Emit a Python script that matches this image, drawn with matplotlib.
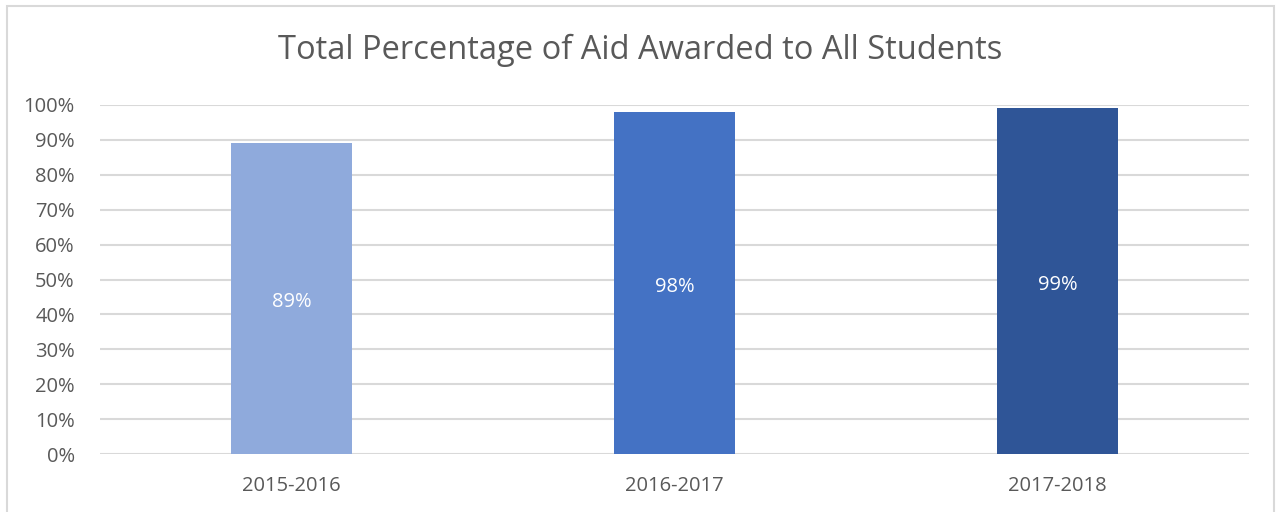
import matplotlib
matplotlib.use('Agg')
from matplotlib import pyplot as plt
from matplotlib.ticker import PercentFormatter
from matplotlib.patches import Rectangle

years = ['2015-2016', '2016-2017', '2017-2018']
aid_pct = [89, 98, 99]
bar_colors = ['#8FAADC', '#4472C4', '#2F5597']
yticks = list(range(0, 101, 10))

plt.rcParams['font.family'] = ['Open Sans', 'DejaVu Sans']

fig = plt.figure(figsize=(12.8, 5.12), dpi=100)
ax = fig.add_axes([0.078, 0.113, 0.898, 0.682])

x = range(len(years))
bars = ax.bar(x, aid_pct, width=0.316, color=bar_colors, zorder=3)
for b, v in zip(bars, aid_pct):
    ax.text(b.get_x() + b.get_width() / 2, v / 2 - 1, '%d%%' % v,
            ha='center', va='center', color='white', fontsize=14.5)

ax.set_xlim(-0.5, len(years) - 0.5)
ax.set_ylim(0, 100)
ax.set_yticks(yticks)
ax.yaxis.set_major_formatter(PercentFormatter(decimals=0))
ax.set_xticks(list(x))
ax.set_xticklabels(years)
ax.tick_params(axis='both', length=0, labelsize=14.5, labelcolor='#595959')
ax.tick_params(axis='x', pad=16)
ax.tick_params(axis='y', pad=18)
ax.grid(axis='y', color='#D9D9D9', linewidth=1.5, zorder=0)
for sp in ax.spines.values():
    sp.set_visible(False)

fig.text(0.5, 1 - 50 / 512, 'Total Percentage of Aid Awarded to All Students',
         ha='center', va='center', fontsize=23.5, color='#595959')

# outer chart border
fig.patches.append(Rectangle((7 / 1280, -0.02), 1267 / 1280, 1.02 - 6 / 512,
                             transform=fig.transFigure,
                             fill=False, edgecolor='#D9D9D9', linewidth=1.5))

fig.savefig('out.png', dpi=100)
